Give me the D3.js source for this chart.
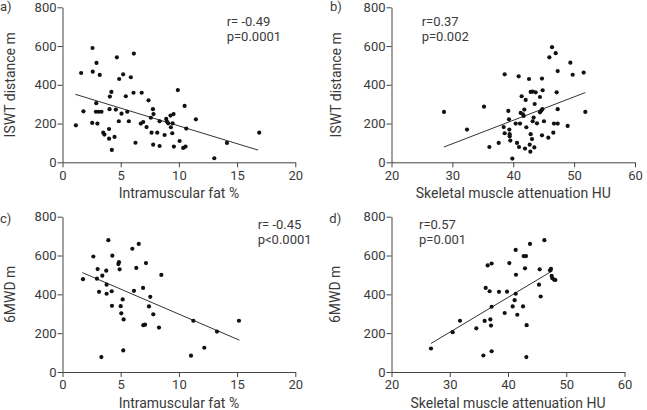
<!DOCTYPE html>
<html><head><meta charset="utf-8">
<script src="https://cdn.jsdelivr.net/npm/d3@7"></script>
<style>
html,body{margin:0;padding:0;background:#fff;}
svg text{font-family:Roboto, "Noto Sans", sans-serif;fill:#3a3a3a;}
</style></head>
<body><svg id="chart" width="647" height="410"></svg>
<script>
// ---------- data ----------
const aX=[1.15,1.6,1.8,2.58,2.6,2.55,2.92,2.9,2.87,3.0,3.2,3.1,3.35,3.5,3.6,4.04,4.07,4.2,4.0,4.0,4.24,4.47,4.58,4.67,4.87,4.84,5.07,5.21,5.44,5.56,5.7,5.87,6.13,6.1,6.27,6.8,6.73,6.93,7.22,7.39,7.59,7.65,7.77,7.82,7.79,8.14,8.34,8.34,8.77,8.91,8.97,9.08,9.28,9.31,9.43,9.46,9.54,9.57,9.91,10.06,10.37,10.57,10.49,10.63,11.46,13.04,14.13,16.9];
const aY=[191,461,263,590,468,203,513,305,261,200,451,261,261,153,143,274,339,363,172,122,64,131,272,542,430,212,251,454,341,261,212,439,561,359,101,359,200,208,182,320,230,153,274,249,91,153,212,84,141,224,210,201,241,181,150,201,249,81,373,110,74,81,291,174,222,21,100,153];
const bX=[28.62,32.40,35.20,36.08,37.61,38.59,38.43,38.59,39.19,39.30,39.36,39.41,39.41,39.52,39.85,40.40,40.62,40.95,40.89,41.11,41.22,41.38,41.60,41.71,41.82,41.93,42.04,42.15,42.59,42.70,42.86,42.81,42.86,43.08,43.19,43.19,43.35,43.46,43.52,43.68,43.90,44.39,44.39,44.61,44.78,44.72,44.83,44.72,45.05,45.76,45.93,46.37,46.58,46.69,46.97,47.13,47.30,47.30,47.30,48.94,49.38,49.76,51.57,51.84];
const bY=[260,169,287,79,100,454,182,150,265,222,169,145,134,112,19,200,100,79,444,200,255,341,248,239,272,71,322,181,430,91,145,55,363,120,365,212,231,77,301,361,201,337,258,267,274,432,372,139,212,127,542,594,153,200,563,361,471,274,200,188,514,452,463,260];
const cX=[1.76,2.65,3.02,2.96,3.14,3.34,3.42,3.76,3.79,3.79,3.94,4.23,4.25,4.28,4.8,4.85,4.91,5.0,5.05,5.17,5.22,5.25,6.0,6.14,6.34,6.55,6.92,6.94,7.09,7.17,7.43,7.54,7.8,8.29,8.49,11.04,11.24,12.18,13.27,15.16];
const cY=[478,595,530,481,413,77,496,522,450,403,679,416,341,599,556,566,529,339,302,374,111,271,635,418,536,660,433,241,244,561,338,387,297,229,500,84,264,125,208,264];
const dX=[26.78,30.50,31.76,34.56,35.77,35.99,36.17,36.51,36.85,36.97,37.08,37.19,37.19,37.19,38.45,39.43,39.83,40.23,40.80,41.14,41.32,41.32,41.37,41.60,42.58,42.69,42.92,43.09,43.20,43.15,43.78,45.32,45.44,45.61,46.24,47.21,47.38,47.50,47.61,47.90,48.13];
const dY=[121,205,264,225,85,263,433,549,416,271,239,559,336,107,413,304,414,561,338,370,629,403,501,295,338,597,534,597,241,77,660,450,529,389,679,524,532,495,483,476,474];
// regression lines: [x0,x1], [y0,y1]
const lineAX=[1.1,16.8], lineAY=[351,63];
const lineBX=[28.62,51.84], lineBY=[79,360];
const lineCX=[1.7,15.2], lineCY=[512,164];
const lineDX=[26.78,47.67], lineDY=[147,522];
// ticks
const yTicks=[0,200,400,600,800];
const fatTicks=[0,5,10,15,20];
const huTicks=[20,30,40,50,60];
const labels=["a)","b)","c)","d)"];
const statsR=["r= -0.49","r=0.37","r= -0.45","r=0.57"];
const statsP=["p=0.0001","p=0.002","p<0.0001","p=0.001"];
const yTitles=["ISWT distance m","ISWT distance m","6MWD m","6MWD m"];
const xTitles=["Intramuscular fat %","Skeletal muscle attenuation HU","Intramuscular fat %","Skeletal muscle attenuation HU"];

// ---------- layout ----------
const svg=d3.select("#chart");
const panels=[
 {xs:aX,ys:aY,lx:lineAX,ly:lineAY,xd:[0,20],xt:fatTicks,xr:[62.5,295.3],yr:[162.3,7.3],lab:[0,11],ytx:10,st:[226.7,26.3]},
 {xs:bX,ys:bY,lx:lineBX,ly:lineBY,xd:[20,60],xt:huTicks,xr:[391.5,635],yr:[162.3,7.3],lab:[330,11],ytx:336,st:[421.7,26.3]},
 {xs:cX,ys:cY,lx:lineCX,ly:lineCY,xd:[0,20],xt:fatTicks,xr:[62.5,295.3],yr:[372,216.7],lab:[0,222.5],ytx:10,st:[257.7,229]},
 {xs:dX,ys:dY,lx:lineDX,ly:lineDY,xd:[20,60],xt:huTicks,xr:[391.5,624.5],yr:[372,216.7],lab:[329.3,222.5],ytx:335,st:[419,229]}
];
panels.forEach((p,i)=>{
  const x=d3.scaleLinear().domain(p.xd).range(p.xr);
  const y=d3.scaleLinear().domain([0,800]).range(p.yr);
  const g=svg.append("g");
  const xa=g.append("g").attr("transform",`translate(0,${p.yr[0]})`)
    .call(d3.axisBottom(x).tickValues(p.xt).tickSize(5).tickSizeOuter(0).tickPadding(3));
  const ya=g.append("g").attr("transform",`translate(${p.xr[0]},0)`)
    .call(d3.axisLeft(y).tickValues(yTicks).tickSize(5).tickSizeOuter(0).tickPadding(1));
  [xa,ya].forEach(a=>{
    a.selectAll("path,line").attr("stroke","#444").attr("stroke-width",1);
    a.selectAll("text").attr("font-size",13).attr("fill","#3a3a3a").style("font-family","Roboto");
  });
  g.append("line")
    .attr("x1",x(p.lx[0])).attr("x2",x(p.lx[1]))
    .attr("y1",y(p.ly[0])).attr("y2",y(p.ly[1]))
    .attr("stroke","#333").attr("stroke-width",1);
  g.selectAll("circle").data(p.xs.map((v,k)=>[v,p.ys[k]])).join("circle")
    .attr("cx",d=>x(d[0])).attr("cy",d=>y(d[1])).attr("r",2.1).attr("fill","#111");
  g.append("text").attr("x",p.lab[0]).attr("y",p.lab[1]).attr("font-size",13).text(labels[i]);
  g.append("text").attr("x",p.st[0]).attr("y",p.st[1]).attr("font-size",13).text(statsR[i]);
  g.append("text").attr("x",p.st[0]).attr("y",p.st[1]+15).attr("font-size",13).text(statsP[i]);
  g.append("text").attr("transform",`translate(${p.ytx},${(p.yr[0]+p.yr[1])/2}) rotate(-90)`)
    .attr("text-anchor","middle").attr("dy","0.35em").attr("font-size",14).text(yTitles[i]);
  g.append("text").attr("x",(p.xr[0]+p.xr[1])/2).attr("y",p.yr[0]+35.7)
    .attr("text-anchor","middle").attr("font-size",14).text(xTitles[i]);
});
</script></body></html>
